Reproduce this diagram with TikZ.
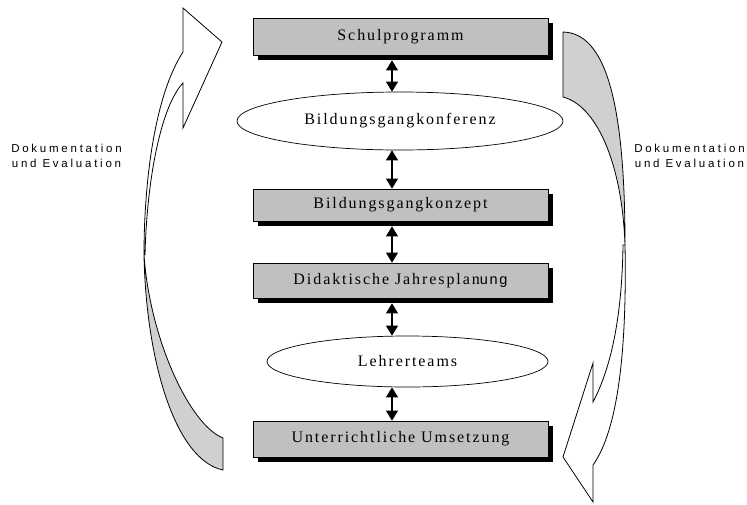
\documentclass[tikz,border=0pt]{standalone}
\usepackage{fontspec}
\setmainfont{Liberation Serif}
\newfontfamily\boxfont[LetterSpace=12]{Liberation Serif}
\newfontfamily\labfont[LetterSpace=24]{Liberation Sans}
\newfontfamily\ungfont[LetterSpace=12]{Liberation Sans}
\usetikzlibrary{shadows,arrows.meta,shapes.geometric}
\definecolor{boxgray}{HTML}{C0C0C0}
\definecolor{arrgray}{HTML}{D0D0D0}
\begin{document}
\begin{tikzpicture}[x=1pt,y=-1pt,
  box/.style={draw, line width=0.8pt, fill=boxgray, minimum width=295pt, inner sep=0pt,
    font=\boxfont\fontsize{16}{18}\selectfont,
    drop shadow={shadow xshift=5pt, shadow yshift=-5pt, fill=black, opacity=1}},
  oval/.style={ellipse, draw, line width=0.7pt, fill=white, inner sep=0pt,
    font=\boxfont\fontsize{16}{18}\selectfont},
  dbl/.style={{Triangle[width=12pt,length=10pt]}-{Triangle[width=12pt,length=10pt]}, line width=1.1pt},
  cur/.style={draw=black, line width=0.8pt, line join=miter},
  lab/.style={align=center, font=\labfont\fontsize{11.5}{15}\selectfont, inner sep=0pt}]
\useasboundingbox (0,0) rectangle (747,504);

% curved arrows
\path[cur, fill=arrgray] (223,438) .. controls (190,425) and (150,340) .. (144,255)
  .. controls (146,360) and (175,460) .. (223,470) -- cycle;
\path[cur, fill=white] (144,255) .. controls (144,180) and (155,95) .. (183,52)
  -- (183,8) -- (222,42) -- (183,128) -- (183,83)
  .. controls (162,105) and (147,175) .. (145,255) -- cycle;

\path[cur, fill=arrgray] (563,32) .. controls (605,33) and (625,100) .. (625,245)
  .. controls (622,160) and (595,105) .. (563,97) -- cycle;
\path[cur, fill=white] (623,245) .. controls (622,320) and (610,370) .. (593,402)
  -- (593,363) -- (563,457) -- (593,502) -- (593,465)
  .. controls (618,430) and (627,350) .. (625,245) -- cycle;

% nodes
\node[box, minimum height=37pt] (b1) at (400.5,36.5) {Schulprogramm};
\node[oval, minimum width=326pt, minimum height=58pt] (e1) at (400,121) {Bildungsgangkonferenz};
\node[box, minimum height=32pt] (b2) at (400.5,205) {Bildungsgangkonzept};
\node[box, minimum height=35pt] (b3) at (400.5,280.5) {Didaktische Jahresplan{\ungfont\fontsize{14.5}{18}\selectfont ung}};
\node[oval, minimum width=281pt, minimum height=51pt] (e2) at (407.5,361.5) {Lehrerteams};
\node[box, minimum height=36pt] (b4) at (400.5,439) {Unterrichtliche Umsetzung};

\node[lab] (l1) at (66.5,156) {Dokumentation\\und Evaluation};
\node[lab] (l2) at (689.5,156) {Dokumentation\\und Evaluation};

% connectors
\coordinate (ax) at (392,0);
\draw[dbl] ([yshift=-5pt]b1.south -| ax) -- (e1.north -| ax);
\draw[dbl] (e1.south -| ax) -- (b2.north -| ax);
\draw[dbl] ([yshift=-5pt]b2.south -| ax) -- (b3.north -| ax);
\draw[dbl] ([yshift=-5pt]b3.south -| ax) -- (e2.north -| ax);
\draw[dbl] (e2.south -| ax) -- (b4.north -| ax);
\end{tikzpicture}
\end{document}
